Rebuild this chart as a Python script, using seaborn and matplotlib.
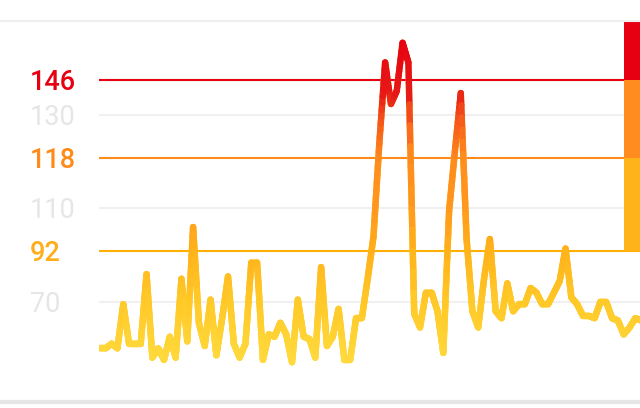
import numpy as np
import pandas as pd
import matplotlib
matplotlib.use("Agg")
import matplotlib.pyplot as plt
from matplotlib.collections import LineCollection
from matplotlib.colors import LinearSegmentedColormap, Normalize
from matplotlib.lines import Line2D
import seaborn as sns

# 심박수 데이터
hr = [50, 50, 52, 50, 69, 52, 52, 52, 82, 46,
      50, 45, 55, 46, 80, 53, 102, 61, 51, 71,
      47, 63, 81, 52, 46, 52, 87, 87, 45, 56,
      55, 61, 56, 44, 71, 55, 54, 46, 85, 51,
      55, 67, 45, 45, 63, 63, 80, 98, 122, 154,
      135, 141, 163, 154, 65, 59, 74, 74, 66, 48,
      109, 120, 140, 97, 66, 59, 80, 97, 66, 63,
      78, 66, 69, 69, 76, 74, 69, 69, 74, 79,
      93, 72, 69, 64, 64, 63, 70, 70, 63, 62,
      56, 59, 63, 62]

# 구간 경계값과 색
zone_bounds = [92, 118, 146]
zone_colors = ["#FFB000", "#FF8C1A", "#E60012"]
bar_colors = ["#FFB31A", "#FF8C1E", "#E60012"]
grid_vals = [70, 110, 130]
tick_vals = [70, 92, 110, 118, 130, 146]

# y축 눈금 간격이 일정하지 않음 -> 구간별 선형 스케일
SCALE_VALS = [20, 70, 92, 110, 118, 130, 146, 200]
SCALE_POS = [-115.9, 0, 51, 94, 144, 187, 222, 340.1]


def forward(v):
    return np.interp(v, SCALE_VALS, SCALE_POS)


def inverse(p):
    return np.interp(p, SCALE_POS, SCALE_VALS)


df = pd.DataFrame({"t": np.arange(len(hr)), "hr": hr})

sns.set_theme(style="white")
plt.rcParams["font.family"] = ["Roboto", "DejaVu Sans"]

fig = plt.figure(figsize=(6.4, 4.08), dpi=100)
ax = fig.add_axes([99 / 640, 1 - 400 / 408, 541 / 640, 378 / 408])
ax.set_yscale("function", functions=(forward, inverse))

# 기본 선 (seaborn)
sns.lineplot(data=df, x="t", y="hr", ax=ax, color="#FFC928", lw=4.6,
             solid_capstyle="round", solid_joinstyle="round", zorder=2)

# 값에 따라 노랑 -> 주황 -> 빨강 그라데이션
nodes = [(40, "#FFDD40"), (70, "#FFC928"), (92, "#FFB21B"), (118, "#FF8C1E"),
         (130, "#F4521A"), (140, "#E71A18"), (165, "#E60012")]
cmap = LinearSegmentedColormap.from_list(
    "hr", [((v - 40) / 125, c) for v, c in nodes])
norm = Normalize(40, 165)

pos = forward(np.array(hr, dtype=float))
segs, cols = [], []
steps = 12
for i in range(len(hr) - 1):
    t = np.linspace(0, 1, steps + 1)
    sx = i + t
    sv = inverse(pos[i] + (pos[i + 1] - pos[i]) * t)
    pts = np.column_stack([sx, sv])
    for k in range(steps):
        segs.append(pts[k:k + 2])
        cols.append(cmap(norm((sv[k] + sv[k + 1]) / 2)))
lc = LineCollection(segs, colors=cols, linewidths=4.6, capstyle="round",
                    joinstyle="round", zorder=3)
ax.add_collection(lc)

# 회색 격자선
for v in grid_vals:
    ax.axhline(v, color="#F0F0F0", lw=1.5, zorder=1)
# 구간 기준선
for v, c in zip(zone_bounds, zone_colors):
    ax.axhline(v, color=c, lw=1.5, zorder=1)

ymin, ymax = 27.7, 172.5
ax.set_ylim(ymin, ymax)
ax.set_xlim(-0.17, 92.8)

# 오른쪽 구간 막대
tops = zone_bounds[1:] + [ymax]
for lo, hi, c in zip(zone_bounds, tops, bar_colors):
    ax.axhspan(lo, hi, xmin=0.9704, xmax=1.0, color=c, lw=0, zorder=5)

# 눈금
ax.set_xticks([])
ax.set_yticks(tick_vals, [str(v) for v in tick_vals])
ax.tick_params(axis="y", length=0, pad=49.7, labelsize=19.5)
label_colors = {92: "#FFAE1A", 118: "#FF8C1A", 146: "#E60012"}
for lbl, v in zip(ax.get_yticklabels(), tick_vals):
    lbl.set_horizontalalignment("left")
    if v in label_colors:
        lbl.set_color(label_colors[v])
        lbl.set_fontweight("medium")
    else:
        lbl.set_color("#E6E6E6")
ax.set(xlabel="", ylabel="")
for s in ax.spines.values():
    s.set_visible(False)

# 위/아래 회색 테두리선
fig.add_artist(Line2D([0, 1], [1 - 21 / 408] * 2, color="#EFEFEF", lw=1.5,
                      transform=fig.transFigure))
fig.add_artist(Line2D([0, 1], [1 - 402 / 408] * 2, color="#E6E6E6", lw=3,
                      transform=fig.transFigure))

fig.savefig("out.png", dpi=100)
